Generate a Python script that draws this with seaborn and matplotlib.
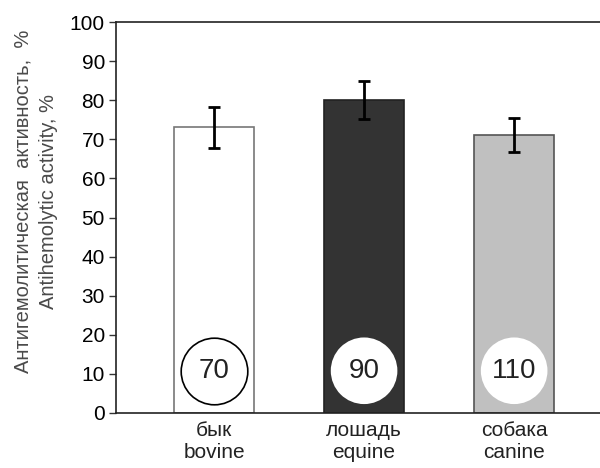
import matplotlib
matplotlib.use("Agg")
import matplotlib.pyplot as plt
import seaborn as sns
import pandas as pd

categories = ["бык\nbovine", "лошадь\nequine", "собака\ncanine"]
values = [73.1, 80.1, 71.1]
errors = [5.2, 4.9, 4.4]
circle_labels = ["70", "90", "110"]
circle_y = [10.8, 10.8, 10.8]

sns.set_style("white")
plt.rcParams['font.family'] = ['Liberation Sans', 'DejaVu Sans']

df = pd.DataFrame({"cat": categories, "val": values})

fig = plt.figure(figsize=(6, 4.68), dpi=100)
ax = fig.add_axes([116/600, 1 - 413/468, 1 - 116/600 + 0.002, (413 - 22)/468])

bar_colors = ["#ffffff", "#333333", "#c0c0c0"]
edge_colors = ["#777777", "#222222", "#555555"]
sns.barplot(data=df, x="cat", y="val", hue="cat", palette=bar_colors,
            legend=False, width=0.53, ax=ax, errorbar=None, linewidth=1.2)
for p, ec in zip(ax.patches, edge_colors):
    p.set_edgecolor(ec)

ax.errorbar(range(len(values)), values, yerr=errors, fmt="none",
            ecolor="black", elinewidth=2, capsize=4, capthick=2, zorder=5)

for i, (lab, cy) in enumerate(zip(circle_labels, circle_y)):
    if i == 0:
        ax.scatter([i], [cy], s=2300, facecolor="white", edgecolor="black",
                   linewidth=1.2, zorder=6)
    else:
        ax.scatter([i], [cy], s=2300, facecolor="white", edgecolor="none", zorder=6)
    ax.text(i, cy, lab, ha="center", va="center", fontsize=20, color="#222222", zorder=7)

ax.set_xlim(-0.653, 2.58)
ax.set_ylim(0, 100)
ax.set_yticks(range(0, 101, 10))
ax.tick_params(axis="y", direction="out", length=5, width=1, labelsize=15,
               left=True, colors="#333333", labelcolor="black", pad=3)
ax.tick_params(axis="x", length=0, labelsize=15, pad=6, labelcolor="#222222")
ax.set_xlabel("")
ax.set_ylabel("Антигемолитическая  активность,  %\nAntihemolytic activity, %",
              fontsize=14.5, color="#4a4a4a", linespacing=1.45)
ax.yaxis.set_label_coords(-0.12, 0.542)

for s in ["left", "top", "bottom"]:
    ax.spines[s].set_visible(True)
    ax.spines[s].set_color("#222222")
    ax.spines[s].set_linewidth(1.2)
ax.spines["right"].set_visible(False)

fig.savefig("out.png", dpi=100)
